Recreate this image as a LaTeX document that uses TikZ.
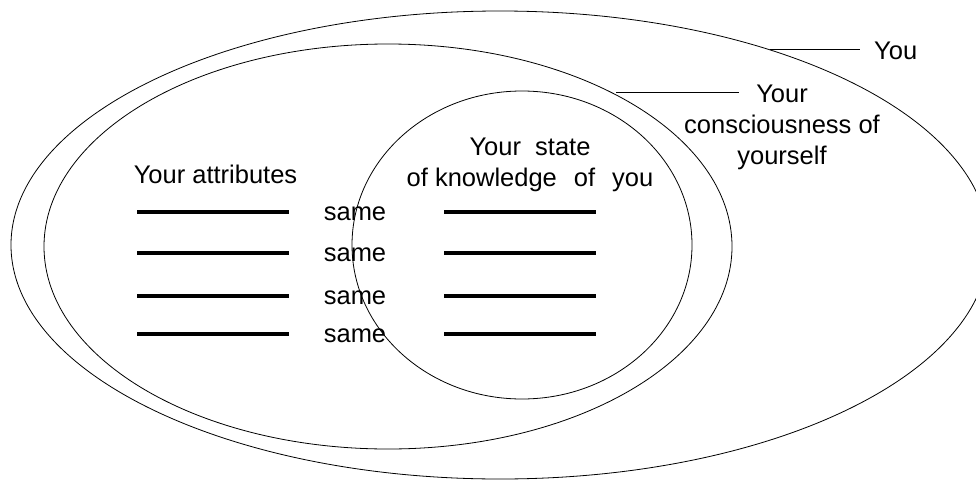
\documentclass[tikz,border=0pt]{standalone}
\usepackage{fontspec}
\setmainfont{Liberation Sans}
\usetikzlibrary{shapes.geometric}
\begin{document}
\begin{tikzpicture}[x=1pt,y=-1pt,
  ring/.style={ellipse, draw=black, line width=0.8pt, inner sep=0pt, outer sep=0pt},
  leader/.style={draw=black, line width=0.8pt},
  txt/.style={font=\fontsize{25.5}{31}\selectfont, inner sep=0pt, text=black},
  bar/.style={draw=black, line width=4pt}]
\useasboundingbox (0,0) rectangle (976,479);
\clip (0,0) rectangle (976,479);
% ellipses
\node[ring, minimum width=978pt, minimum height=468pt] (you) at (500,245) {};
\node[ring, minimum width=688pt, minimum height=405pt] (cons) at (388,246.5) {};
\node[ring, minimum width=340pt, minimum height=308pt] (know) at (522,245) {};
% labels
\node[txt, anchor=base west] (lblyou) at (874,59) {You};
\coordinate (youstart) at (770,49);
\coordinate (youend) at (860,49);
\draw[leader] (youstart) -- (youend);
\node[txt, anchor=north, align=center] (lblcons) at (782,85) {Your\\consciousness of\\yourself};
\coordinate (consstart) at (616,92);
\coordinate (consend) at (739,92);
\draw[leader] (consstart) -- (consend);
\node[txt, anchor=base] (attr) at (215.5,183) {Your attributes};
\node[txt, anchor=north, align=center] (state) at (530,138) {Your\ \ state\\of knowledge\hspace{17pt}of\hspace{17pt}you};
% bars and same
\foreach \yy/\nm in {212/a,253/b,296/c,334/d}{
  \coordinate (l\nm1) at (137,\yy);
  \coordinate (l\nm2) at (289,\yy);
  \coordinate (r\nm1) at (444,\yy);
  \coordinate (r\nm2) at (596,\yy);
  \draw[bar] (l\nm1) -- (l\nm2);
  \draw[bar] (r\nm1) -- (r\nm2);
  \node[txt, anchor=base] (same\nm) at (355,\yy+8) {same};
}
\end{tikzpicture}
\end{document}
